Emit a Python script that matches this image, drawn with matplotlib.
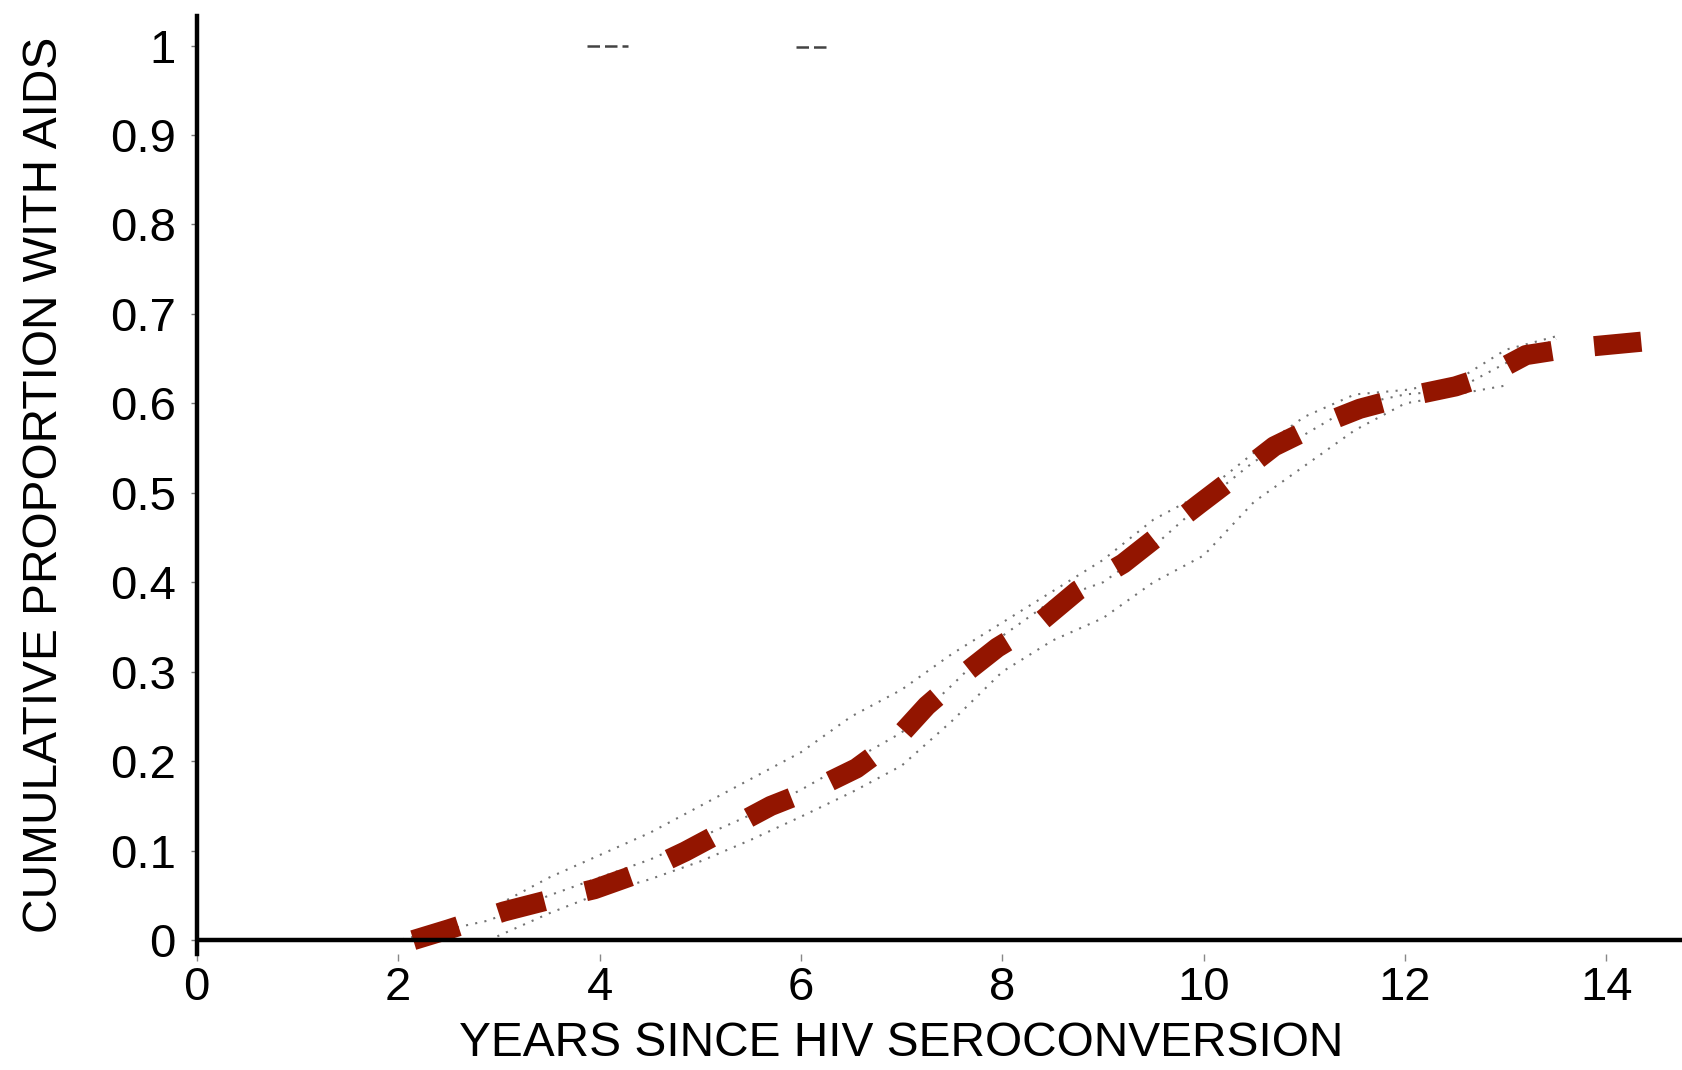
import matplotlib
matplotlib.use("Agg")
import matplotlib.pyplot as plt

plt.rcParams['font.family'] = ['Liberation Sans', 'DejaVu Sans']

# Smoothed cumulative incidence curve (years since seroconversion, proportion with AIDS)
fit_years = [2.15, 2.5, 3.05, 3.5, 3.95, 4.4, 4.85, 5.3, 5.7, 6.15, 6.55, 6.95,
             7.25, 7.6, 7.95, 8.4, 8.75, 9.2, 9.55, 9.95, 10.3, 10.7, 11.1,
             11.55, 11.95, 12.5, 12.8, 13.2, 13.6, 14.35]
fit_prop = [0.0, 0.012, 0.032, 0.045, 0.057, 0.075, 0.099, 0.126, 0.150, 0.170,
            0.192, 0.225, 0.262, 0.296, 0.327, 0.358, 0.391, 0.421, 0.452, 0.487,
            0.517, 0.552, 0.574, 0.594, 0.606, 0.619, 0.630, 0.654, 0.661, 0.669]

# Kaplan-Meier estimate with lower and upper confidence limits
km_years = [1.2, 2.0, 2.9, 3.5, 4.0, 4.5, 5.0, 5.5, 6.0, 6.5, 7.0, 7.5, 8.0,
            8.5, 9.0, 9.5, 10.0, 10.5, 11.0, 11.5, 12.0, 12.5, 13.0, 13.5]
km_prop = [0.0, 0.0, 0.022, 0.05, 0.07, 0.09, 0.115, 0.14, 0.168, 0.2, 0.232,
           0.285, 0.34, 0.38, 0.4, 0.44, 0.49, 0.535, 0.565, 0.598, 0.61,
           0.615, 0.645, 0.672]
lo_years = [2.9, 3.5, 4.0, 4.5, 5.0, 5.5, 6.0, 6.5, 7.0, 7.5, 8.0, 8.5, 9.0,
            9.5, 10.0, 10.5, 11.0, 11.5, 12.0, 12.5, 13.0]
lo_prop = [0.0, 0.03, 0.052, 0.068, 0.088, 0.112, 0.138, 0.165, 0.195, 0.245,
           0.3, 0.335, 0.36, 0.4, 0.43, 0.49, 0.53, 0.57, 0.6, 0.61, 0.62]
hi_years = [3.0, 3.5, 4.0, 4.5, 5.0, 5.5, 6.0, 6.5, 7.0, 7.5, 8.0, 8.5, 9.0,
            9.5, 10.0, 10.5, 11.0, 11.5, 12.0, 12.5, 13.0, 13.5]
hi_prop = [0.04, 0.07, 0.095, 0.12, 0.15, 0.18, 0.21, 0.25, 0.28, 0.32, 0.355,
           0.39, 0.425, 0.47, 0.5, 0.545, 0.585, 0.61, 0.615, 0.625, 0.66, 0.675]

# Stray marks along the top of the plot
top_marks = [(3.88, 4.28, 1.0), (5.95, 6.25, 0.998)]

x_ticks = [0, 2, 4, 6, 8, 10, 12, 14]
y_ticks = [0, 0.1, 0.2, 0.3, 0.4, 0.5, 0.6, 0.7, 0.8, 0.9, 1]
y_ticklabels = ['0', '0.1', '0.2', '0.3', '0.4', '0.5', '0.6', '0.7', '0.8', '0.9', '1']

fig = plt.figure(figsize=(16.82, 10.70), dpi=100)
ax = fig.add_axes([0.117, 0.108, 0.883, 0.877])

gray = '#444444'
for xs, ys in [(km_years, km_prop), (lo_years, lo_prop), (hi_years, hi_prop)]:
    ax.plot(xs, ys, color=gray, lw=1.5, ls=(0, (1.0, 3.5)), alpha=0.75, zorder=2)

for x0, x1, y in top_marks:
    ax.plot([x0, x1], [y, y], color='#222222', lw=1.8, ls=(0, (5, 2)), alpha=0.85, zorder=2)

ax.plot(fit_years, fit_prop, color='#931500', lw=14.5, dashes=(2.35, 2.1),
        dash_capstyle='butt', solid_capstyle='butt', zorder=3)

ax.axhline(0, color='black', lw=3.2, zorder=4)

ax.set_xlim(0, 14.75)
ax.set_ylim(-0.016, 1.033)
ax.set_xticks(x_ticks)
ax.set_xticklabels([str(t) for t in x_ticks])
ax.set_yticks(y_ticks)
ax.set_yticklabels(y_ticklabels)

for side in ['top', 'right', 'bottom']:
    ax.spines[side].set_visible(False)
ax.spines['left'].set_linewidth(3.2)

ax.tick_params(axis='y', length=4, width=1, color='#777777', labelsize=34, pad=11)
ax.tick_params(axis='x', length=5, width=1, color='#888888', labelsize=34, pad=3)

ax.set_xlabel('YEARS SINCE HIV SEROCONVERSION', fontsize=34.5, labelpad=8)
ax.xaxis.label.set_x(0.474)
ax.set_ylabel('CUMULATIVE PROPORTION WITH AIDS', fontsize=34.5, labelpad=31)

fig.savefig('out.png', dpi=100, facecolor='white')
